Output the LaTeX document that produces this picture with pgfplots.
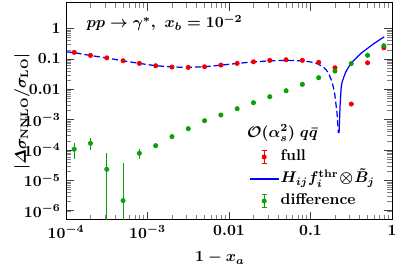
\documentclass[border=0pt]{standalone}
\usepackage{amsmath}
\usepackage{pgfplots}
\pgfplotsset{compat=1.18}
\definecolor{myred}{RGB}{240,0,0}
\definecolor{mygreen}{RGB}{10,160,10}
\definecolor{myblue}{RGB}{0,0,255}
\pgfplotstableread{
x y
1.2589e-4 0.165
1.9953e-4 0.131
3.1623e-4 0.109
5.0119e-4 0.0873
7.9433e-4 0.0717
1.2589e-3 0.0598
1.9953e-3 0.0542
3.1623e-3 0.0529
5.0119e-3 0.0554
7.9433e-3 0.0630
0.012589 0.0717
0.019953 0.0809
0.031623 0.0899
0.050119 0.0942
0.079433 0.0899
0.12589 0.0778
0.19953 0.0514
0.31623 0.00328
0.50119 0.0750
0.79433 0.233
}\fulltab
\pgfplotstableread{
x y ep em
1.2589e-4 1.06e-4 0.36e-4 0.45e-4
1.9953e-4 1.67e-4 0.48e-4 0.43e-4
3.1623e-4 2.33e-5 4.6e-5 2.3299e-5
5.0119e-4 2.17e-6 3.0e-5 2.1699e-6
7.9433e-4 7.85e-5 1.45e-5 1.8e-5
1.2589e-3 1.40e-4 0 0
1.9953e-3 2.76e-4 0 0
3.1623e-3 5.06e-4 0 0
5.0119e-3 9.27e-4 0 0
7.9433e-3 1.43e-3 0 0
0.012589 2.30e-3 0 0
0.019953 3.62e-3 0 0
0.031623 5.71e-3 0 0
0.050119 8.99e-3 0 0
0.079433 0.0146 0 0
0.12589 0.0241 0 0
0.19953 0.040 0 0
0.31623 0.0706 0 0
0.50119 0.132 0 0
0.79433 0.272 0 0
}\difftab
\pgfplotstableread{
x y
1e-4 0.172
1.2589e-4 0.162
1.9953e-4 0.130
3.1623e-4 0.108
5.0119e-4 0.087
7.9433e-4 0.0715
1.2589e-3 0.060
1.9953e-3 0.0545
3.1623e-3 0.053
5.0119e-3 0.0555
7.9433e-3 0.0625
0.012589 0.0715
0.019953 0.080
0.031623 0.087
0.050119 0.090
0.079433 0.087
0.1 0.080
0.1175 0.072
0.1413 0.057
0.1567 0.043
0.1698 0.030
0.1803 0.020
0.1905 0.012
0.1977 0.0074
0.2042 0.0036
0.2113 0.0017
0.2198 3.6e-4
}\negtab
\pgfplotstableread{
x y
0.2239 3.65e-4
0.2307 3.05e-3
0.2382 0.0122
0.2443 0.0174
0.2570 0.026
0.2716 0.0379
0.3126 0.0716
0.4150 0.153
0.6039 0.326
0.8017 0.537
}\postab
\begin{document}
\boldmath\bfseries
\begin{tikzpicture}
\begin{axis}[name=ax, xmode=log, ymode=log, scale only axis,
  width=210.3pt, height=140pt,
  xmin=1e-4, xmax=1, ymin=5e-7, ymax=7,
  xtick={1e-4,1e-3,1e-2,1e-1,1},
  xticklabels={$10^{-4}$,$10^{-3}$,$0.01$,$0.1$,$1$},
  ytick={1e-6,1e-5,1e-4,1e-3,1e-2,1e-1,1},
  yticklabels={$10^{-6}$,$10^{-5}$,$10^{-4}$,$10^{-3}$,$0.01$,$0.1$,$1$},
  major tick length=5pt, minor tick length=3pt,
  every major tick/.append style={black!75, line width=0.5pt},
  every minor tick/.append style={black!50, line width=0.4pt},
  axis line style={line width=0.6pt},
  xlabel={$1-x_a$},
  ylabel={$|\varDelta\sigma_{\mathrm{NNLO}}/\sigma_{\mathrm{LO}}|$},
  xlabel style={at={(axis description cs:0.472,-0.175)},anchor=center},
  ylabel style={at={(axis description cs:-0.135,0.5)},anchor=center},
  legend cell align=left,
  legend style={draw=none, fill=none, inner sep=0pt, at={(0.561,0.338)}, anchor=north west,
    row sep=1.2pt, nodes={inner sep=1pt, text height=8pt, text depth=3pt}},
]
\addplot[only marks, mark=*, mark size=1.4pt, color=myred,
  legend image code/.code={
    \draw[myred, line width=0.6pt] (0.325cm,-4.3pt) -- (0.325cm,4.3pt)
      (0.325cm-1.5pt,-4.3pt) -- (0.325cm+1.5pt,-4.3pt) (0.325cm-1.5pt,4.3pt) -- (0.325cm+1.5pt,4.3pt);
    \fill[myred] (0.325cm,0pt) circle (1.4pt);}]
  table[x=x,y=y] {\fulltab};
\addlegendentry{full}
\addplot[myblue, line width=0.8pt, dash pattern=on 4pt off 2pt, forget plot] table[x=x,y=y] {\negtab};
\addplot[myblue, line width=0.8pt,
  legend image code/.code={\draw[myblue, line width=0.8pt] (0cm,0cm) -- (0.65cm,0cm);}]
  table[x=x,y=y] {\postab};
\addlegendentry{$H_{ij}f_i^{\mathrm{thr}}\!\otimes\!\tilde{B}_j$}
\addplot[only marks, mark=*, mark size=1.4pt, color=mygreen,
  error bars/.cd, y dir=both, y explicit,
  error bar style={line width=0.6pt},
  error mark options={mark size=1.5pt, line width=0.6pt},
  /pgfplots/legend image code/.code={
    \draw[mygreen, line width=0.6pt] (0.325cm,-4.3pt) -- (0.325cm,4.3pt)
      (0.325cm-1.5pt,-4.3pt) -- (0.325cm+1.5pt,-4.3pt) (0.325cm-1.5pt,4.3pt) -- (0.325cm+1.5pt,4.3pt);
    \fill[mygreen] (0.325cm,0pt) circle (1.4pt);}]
  table[x=x,y=y,y error plus=ep,y error minus=em] {\difftab};
\addlegendentry{difference}
\node[anchor=west] at (rel axis cs:0.046,0.908) {$pp\to\gamma^*,\ x_b=10^{-2}$};
\node[anchor=center] at (rel axis cs:0.664,0.40) {$\mathcal{O}(\alpha_s^2)\;q\bar{q}$};
\end{axis}
\pgfresetboundingbox
\path[use as bounding box] ([shift={(-42.6pt,-31.6pt)}]ax.south west) rectangle ([shift={(4.5pt,1.9pt)}]ax.north east);
\end{tikzpicture}
\end{document}
